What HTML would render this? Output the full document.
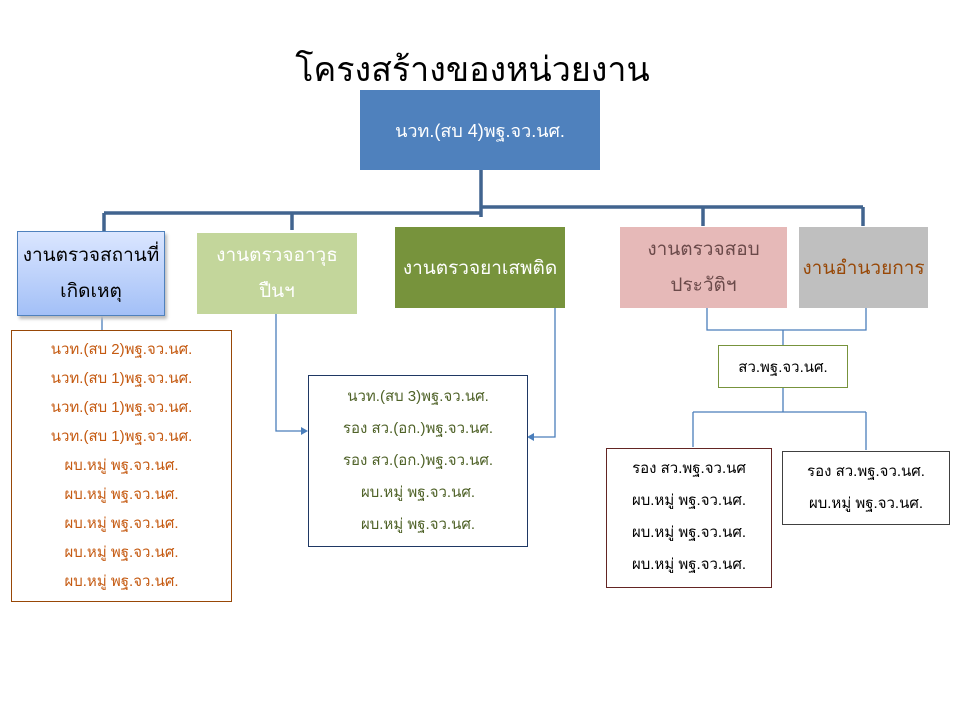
<!DOCTYPE html>
<html><head><meta charset="utf-8"><style>
body{margin:0;width:960px;height:720px;background:#fff;position:relative;overflow:hidden;font-family:"Liberation Sans","DejaVu Sans",sans-serif}
.b{position:absolute;box-sizing:border-box;display:flex;flex-direction:column;align-items:center;justify-content:center;text-align:center}
.l{position:absolute;box-sizing:border-box;text-align:center;font-size:15px}
.l div{height:29px;line-height:29px}
</style></head><body>
<div style="position:absolute;left:0;width:945px;top:42px;text-align:center;font-size:34px;font-family:'Liberation Serif','DejaVu Serif',serif;color:#000">โครงสร้างของหน่วยงาน</div>
<svg width="960" height="720" style="position:absolute;left:0;top:0">
<g stroke="#41648f" stroke-width="3.5" fill="none">
<path d="M481 170V217M104 213H481M104 213V232M292 213V230M481 207H863M703 207V226M863 207V226"/>
</g>
<g stroke="#4a7ebb" stroke-width="1.3" fill="none">
<path d="M102 316V330M276 314V431H304M555 308V437H531M707 308V330H866V308M783 330V345M783 387V412M693 412H866M693 412V447M866 412V450"/>
</g>
<path d="M308 431l-7-4v8z" fill="#4a7ebb"/>
<path d="M527 437l7-4v8z" fill="#4a7ebb"/>
</svg>
<div class="b" style="left:360px;top:90px;width:240px;height:80px;background:#4f81bd;color:#fff;font-size:18px">นวท.(สบ 4)พฐ.จว.นศ.</div>
<div class="b" style="left:17px;top:231px;width:148px;height:85px;background:linear-gradient(#dbe6ff,#a3c0f7);border:1px solid #4f81bd;box-shadow:2px 3px 3px #bbb;font-size:19px;line-height:36px">งานตรวจสถานที่<br>เกิดเหตุ</div>
<div class="b" style="left:197px;top:233px;width:160px;height:81px;background:#c3d69b;color:#fff;font-size:19px;line-height:36px">งานตรวจอาวุธ<br>ปืนฯ</div>
<div class="b" style="left:395px;top:227px;width:170px;height:81px;background:#77933c;color:#fff;font-size:19px">งานตรวจยาเสพติด</div>
<div class="b" style="left:620px;top:227px;width:167px;height:81px;background:#e6b9b8;color:#6b4a4a;font-size:19px;line-height:36px">งานตรวจสอบ<br>ประวัติฯ</div>
<div class="b" style="left:799px;top:227px;width:129px;height:81px;background:#bfbfbf;color:#984807;font-size:19px">งานอำนวยการ</div>
<div class="l" style="left:11px;top:330px;width:221px;height:272px;border:1px solid #984807;color:#c55a11;padding-top:4px">
<div>นวท.(สบ 2)พฐ.จว.นศ.</div><div>นวท.(สบ 1)พฐ.จว.นศ.</div><div>นวท.(สบ 1)พฐ.จว.นศ.</div><div>นวท.(สบ 1)พฐ.จว.นศ.</div><div>ผบ.หมู่ พฐ.จว.นศ.</div><div>ผบ.หมู่ พฐ.จว.นศ.</div><div>ผบ.หมู่ พฐ.จว.นศ.</div><div>ผบ.หมู่ พฐ.จว.นศ.</div><div>ผบ.หมู่ พฐ.จว.นศ.</div></div>
<div class="l" style="left:308px;top:375px;width:220px;height:172px;border:1px solid #1f3864;color:#4f6228;padding-top:5px">
<div style="height:32px;line-height:32px">นวท.(สบ 3)พฐ.จว.นศ.</div><div style="height:32px;line-height:32px">รอง สว.(อก.)พฐ.จว.นศ.</div><div style="height:32px;line-height:32px">รอง สว.(อก.)พฐ.จว.นศ.</div><div style="height:32px;line-height:32px">ผบ.หมู่ พฐ.จว.นศ.</div><div style="height:32px;line-height:32px">ผบ.หมู่ พฐ.จว.นศ.</div></div>
<div class="b" style="left:718px;top:345px;width:130px;height:43px;border:1px solid #77933c;font-size:15px">สว.พฐ.จว.นศ.</div>
<div class="l" style="left:606px;top:448px;width:166px;height:140px;border:1px solid #632523;color:#000;padding-top:4px">
<div style="height:32px;line-height:32px">รอง สว.พฐ.จว.นศ</div><div style="height:32px;line-height:32px">ผบ.หมู่ พฐ.จว.นศ.</div><div style="height:32px;line-height:32px">ผบ.หมู่ พฐ.จว.นศ.</div><div style="height:32px;line-height:32px">ผบ.หมู่ พฐ.จว.นศ.</div></div>
<div class="l" style="left:782px;top:451px;width:168px;height:74px;border:1px solid #404040;color:#000;padding-top:4px">
<div style="height:32px;line-height:32px">รอง สว.พฐ.จว.นศ.</div><div style="height:32px;line-height:32px">ผบ.หมู่ พฐ.จว.นศ.</div></div>
</body></html>
